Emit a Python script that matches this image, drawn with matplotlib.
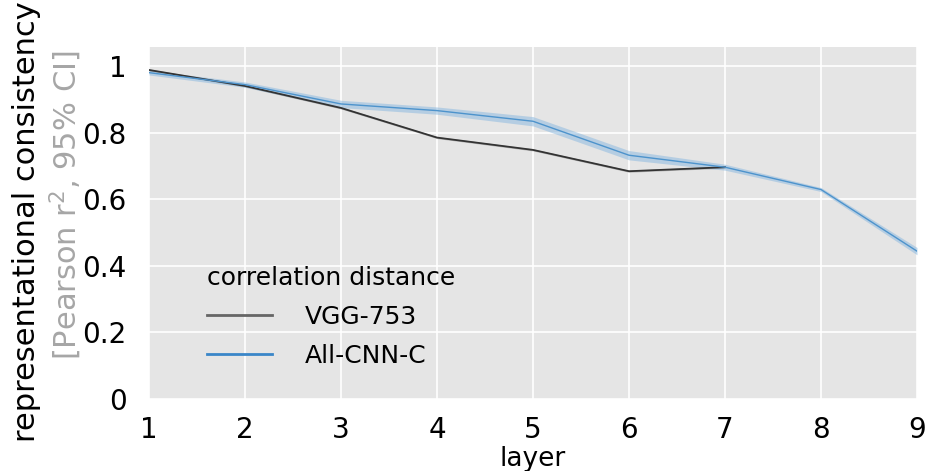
import numpy as np
import matplotlib
matplotlib.use("Agg")
import matplotlib.pyplot as plt

layers_vgg = [1, 2, 3, 4, 5, 6, 7]
vgg_mean = [0.988, 0.940, 0.874, 0.785, 0.748, 0.684, 0.696]
vgg_ci = [0.003, 0.003, 0.003, 0.003, 0.003, 0.003, 0.003]

layers_cnn = [1, 2, 3, 4, 5, 6, 7, 8, 9]
cnn_mean = [0.980, 0.944, 0.886, 0.866, 0.834, 0.732, 0.696, 0.629, 0.444]
cnn_ci = [0.007, 0.008, 0.011, 0.011, 0.014, 0.014, 0.009, 0.006, 0.011]

xticks = [1, 2, 3, 4, 5, 6, 7, 8, 9]
yticks = [0, 0.2, 0.4, 0.6, 0.8, 1.0]
ytick_labels = ["0", "0.2", "0.4", "0.6", "0.8", "1"]

plt.rcParams["font.family"] = ["DejaVu Sans"]

fig = plt.figure(figsize=(9.27, 4.71), dpi=100)
ax = fig.add_axes([149 / 927, 1 - 399 / 471, (917 - 149) / 927, (399 - 47) / 471])
ax.set_facecolor("#e5e5e5")
for s in ax.spines.values():
    s.set_visible(False)
ax.grid(True, color="white", linewidth=1.2)
ax.set_axisbelow(True)

vgg_col = "#333333"
cnn_col = "#4d93cc"

vm, vc = np.array(vgg_mean), np.array(vgg_ci)
cm, cc = np.array(cnn_mean), np.array(cnn_ci)

ax.fill_between(layers_vgg, vm - vc, vm + vc, color="#555555", alpha=0.35, linewidth=0)
ax.plot(layers_vgg, vm, color=vgg_col, linewidth=1.3)
ax.fill_between(layers_cnn, cm - cc, cm + cc, color="#8fbbe0", alpha=0.55, linewidth=0)
ax.plot(layers_cnn, cm, color=cnn_col, linewidth=1.0)

ax.set_xlim(1, 9)
ax.set_ylim(0, 1.057)
ax.set_xticks(xticks)
ax.set_yticks(yticks)
ax.set_yticklabels(ytick_labels)
ax.tick_params(axis="x", length=0, labelsize=20, pad=12)
ax.tick_params(axis="y", length=0, labelsize=20, pad=16)
ax.set_xlabel("layer", fontsize=19, labelpad=2)

fig.text(27 / 927, 1 - 222 / 471, "representational consistency", rotation=90,
         ha="center", va="center", fontsize=22, color="black")
fig.text(66 / 927, 1 - 205 / 471, "[Pearson r$^2$, 95% CI]", rotation=90,
         ha="center", va="center", fontsize=22, color="#a6a6a6")

h1, = ax.plot([], [], color="#666666", linewidth=2)
h2, = ax.plot([], [], color="#3a86c8", linewidth=2)
leg = ax.legend([h1, h2], ["VGG-753", "All-CNN-C"], title="correlation distance",
                loc="lower left", bbox_to_anchor=(0.063, 0.06), frameon=False,
                fontsize=18, title_fontsize=18, handlelength=2.6, handletextpad=1.3,
                labelspacing=0.6, borderaxespad=0)
leg._legend_box.align = "left"

fig.savefig("out.png", dpi=100)
